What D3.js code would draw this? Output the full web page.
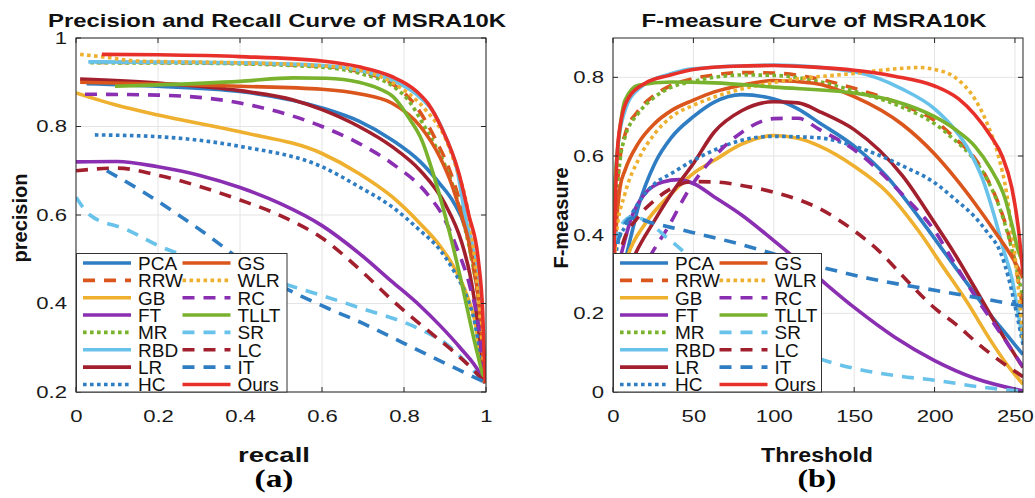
<!DOCTYPE html>
<html>
<head>
<meta charset="utf-8">
<script src="https://cdn.jsdelivr.net/npm/d3@7"></script>
<style>
  body { margin: 0; background: #fff; }
  text { font-family: Arial, "Liberation Sans", sans-serif; }
</style>
</head>
<body>
<svg id="chart" width="1035" height="498"></svg>
<script>
const methods = ["PCA","RRW","GB","FT","MR","RBD","LR","HC","GS","WLR","RC","TLLT","SR","LC","IT","Ours"];

// precision-recall curves, [recall, precision]
const prPCA  = [[0.026,0.897],[0.2,0.891],[0.4,0.879],[0.6,0.842],[0.69,0.812],[0.77,0.77],[0.84,0.72],[0.888,0.67],[0.92,0.63],[0.95,0.57],[0.97,0.49],[0.985,0.38],[0.997,0.22]];
const prRRW  = [[0.05,0.945],[0.3,0.944],[0.6,0.936],[0.7,0.922],[0.77,0.897],[0.83,0.845],[0.88,0.765],[0.908,0.709],[0.928,0.656],[0.944,0.604],[0.965,0.5],[0.985,0.38],[0.997,0.22]];
const prGB   = [[0,0.876],[0.1,0.848],[0.2,0.826],[0.4,0.788],[0.6,0.739],[0.69,0.694],[0.77,0.642],[0.839,0.581],[0.888,0.53],[0.92,0.485],[0.953,0.42],[0.973,0.36],[0.985,0.29],[0.997,0.22]];
const prFT   = [[0,0.72],[0.1,0.721],[0.2,0.709],[0.3,0.69],[0.4,0.662],[0.5,0.625],[0.6,0.576],[0.69,0.514],[0.77,0.45],[0.839,0.395],[0.888,0.35],[0.937,0.3],[0.985,0.242],[0.997,0.22]];
const prMR   = [[0.035,0.944],[0.3,0.943],[0.6,0.934],[0.7,0.918],[0.77,0.893],[0.81,0.86],[0.85,0.8],[0.88,0.75],[0.91,0.69],[0.94,0.6],[0.965,0.5],[0.985,0.38],[0.997,0.22]];
const prRBD  = [[0.03,0.946],[0.3,0.945],[0.6,0.938],[0.7,0.925],[0.77,0.905],[0.83,0.873],[0.87,0.835],[0.9,0.78],[0.93,0.7],[0.949,0.6],[0.973,0.5],[0.988,0.38],[0.997,0.22]];
const prLR   = [[0.01,0.907],[0.2,0.898],[0.4,0.881],[0.53,0.86],[0.6,0.838],[0.69,0.8],[0.77,0.755],[0.84,0.7],[0.9,0.625],[0.94,0.54],[0.961,0.465],[0.985,0.32],[0.997,0.22]];
const prHC   = [[0.046,0.781],[0.2,0.777],[0.4,0.755],[0.6,0.709],[0.69,0.664],[0.77,0.619],[0.839,0.565],[0.888,0.521],[0.92,0.476],[0.953,0.415],[0.973,0.355],[0.985,0.29],[0.997,0.22]];
const prGS   = [[0.01,0.9],[0.2,0.896],[0.4,0.891],[0.6,0.884],[0.69,0.874],[0.77,0.853],[0.84,0.8],[0.888,0.73],[0.916,0.67],[0.94,0.6],[0.958,0.54],[0.973,0.47],[0.986,0.37],[0.997,0.22]];
const prWLR  = [[0.01,0.963],[0.06,0.958],[0.15,0.948],[0.4,0.944],[0.6,0.937],[0.69,0.928],[0.77,0.9],[0.855,0.835],[0.9,0.775],[0.93,0.7],[0.948,0.645],[0.963,0.57],[0.981,0.42],[0.997,0.22]];
const prRC   = [[0.022,0.873],[0.2,0.871],[0.4,0.853],[0.6,0.8],[0.69,0.762],[0.77,0.717],[0.859,0.645],[0.896,0.596],[0.928,0.528],[0.961,0.438],[0.981,0.355],[0.997,0.22]];
const prTLLT = [[0.095,0.891],[0.2,0.894],[0.4,0.902],[0.53,0.91],[0.61,0.909],[0.69,0.9],[0.74,0.885],[0.774,0.867],[0.815,0.815],[0.843,0.77],[0.871,0.694],[0.9,0.6],[0.937,0.461],[0.973,0.31],[0.997,0.22]];
const prSR   = [[0,0.64],[0.034,0.6],[0.124,0.567],[0.205,0.529],[0.367,0.483],[0.53,0.438],[0.693,0.39],[0.839,0.342],[0.904,0.308],[0.961,0.257],[0.997,0.22]];
const prLC   = [[0,0.7],[0.1,0.706],[0.2,0.69],[0.3,0.665],[0.4,0.634],[0.5,0.598],[0.6,0.548],[0.7,0.47],[0.774,0.405],[0.87,0.33],[0.92,0.292],[0.969,0.25],[0.997,0.222]];
const prIT   = [[0.075,0.7],[0.164,0.652],[0.25,0.6],[0.32,0.555],[0.4,0.5],[0.5,0.44],[0.6,0.395],[0.7,0.355],[0.8,0.31],[0.9,0.265],[0.997,0.222]];
const prOurs = [[0.063,0.963],[0.2,0.962],[0.4,0.958],[0.6,0.948],[0.69,0.935],[0.77,0.913],[0.83,0.88],[0.86,0.85],[0.89,0.8],[0.934,0.694],[0.958,0.6],[0.981,0.5],[0.992,0.38],[0.998,0.22]];

// F-measure curves, [threshold, F]
const fmPCA  = [[0,0.27],[5,0.3],[11.6,0.403],[15.7,0.47],[26,0.581],[36.5,0.648],[50,0.7],[63,0.737],[80,0.756],[100,0.745],[115,0.72],[128.5,0.684],[150,0.625],[170,0.549],[191,0.44],[200,0.39],[212.7,0.318],[225,0.25],[233,0.205],[245,0.145],[255,0.095]];
const fmRRW  = [[0,0.27],[1,0.4],[4.4,0.595],[7.5,0.655],[15.7,0.715],[26,0.755],[36.5,0.78],[50,0.797],[63,0.806],[80,0.812],[100,0.811],[125,0.798],[150,0.772],[180,0.73],[200,0.69],[212.7,0.645],[225,0.594],[233,0.54],[241,0.465],[246,0.4],[250,0.33],[255,0.21]];
const fmGB   = [[0,0.2],[9.5,0.35],[20,0.428],[36.5,0.505],[50,0.556],[63,0.589],[80,0.63],[100,0.652],[115,0.645],[128.5,0.625],[150,0.574],[170,0.51],[190,0.41],[205,0.32],[220,0.23],[235,0.13],[245,0.07],[255,0.02]];
const fmFT   = [[0,0.27],[5.4,0.355],[11.6,0.445],[20,0.505],[31,0.534],[41,0.54],[50,0.53],[63,0.496],[80,0.45],[100,0.385],[125,0.3],[150,0.215],[175,0.14],[200,0.08],[225,0.035],[255,0.003]];
const fmMR   = [[0,0.27],[1,0.4],[4.4,0.589],[7.5,0.648],[15.7,0.708],[26,0.75],[36.5,0.775],[50,0.79],[63,0.8],[80,0.806],[100,0.805],[125,0.792],[150,0.765],[180,0.724],[200,0.682],[212.7,0.64],[225,0.589],[233,0.538],[241,0.462],[246,0.395],[250,0.33],[255,0.24]];
const fmRBD  = [[0,0.27],[1,0.5],[3.3,0.632],[7.5,0.716],[15.7,0.77],[36.5,0.81],[50,0.822],[100,0.831],[150,0.814],[180,0.77],[200,0.72],[212,0.67],[222,0.61],[230,0.54],[237,0.45],[243,0.36],[248,0.29],[252,0.2],[255,0.13]];
const fmLR   = [[0,0.2],[14,0.352],[26,0.437],[36.5,0.505],[50,0.581],[63,0.661],[80,0.715],[100,0.738],[115,0.735],[130,0.71],[150,0.667],[180,0.55],[200,0.43],[212.7,0.35],[225,0.265],[240,0.16],[255,0.062]];
const fmHC   = [[0,0.27],[3,0.38],[7.5,0.42],[15.7,0.48],[26,0.53],[36.5,0.556],[50,0.589],[63,0.615],[80,0.64],[100,0.65],[128.5,0.646],[150,0.625],[180.5,0.574],[200,0.532],[212.7,0.49],[225,0.445],[233,0.405],[241,0.355],[246,0.29],[251,0.2],[255,0.12]];
const fmGS   = [[0,0.27],[2,0.42],[4.4,0.521],[7.5,0.564],[15.7,0.632],[26,0.683],[36.5,0.716],[50,0.742],[63,0.763],[80,0.78],[100,0.792],[125,0.785],[150,0.751],[180,0.68],[200,0.605],[212.7,0.545],[225,0.48],[238,0.405],[250,0.33],[255,0.29]];
const fmWLR  = [[0,0.27],[2,0.4],[7.5,0.505],[15.7,0.59],[26,0.657],[36.5,0.7],[50,0.729],[63,0.75],[100,0.787],[150,0.81],[180,0.823],[190,0.825],[200,0.82],[212.7,0.8],[225,0.745],[233,0.68],[239.7,0.6],[244.8,0.505],[248,0.41],[252,0.27],[255,0.13]];
const fmRC   = [[0,0.15],[24,0.352],[34.4,0.42],[47,0.513],[63,0.598],[80,0.66],[100,0.695],[115,0.696],[128.5,0.667],[150,0.616],[180.5,0.5],[200,0.41],[212,0.33],[225,0.245],[237.6,0.17],[255,0.064]];
const fmTLLT = [[0,0.27],[1,0.5],[2.5,0.6],[4.4,0.674],[7.5,0.742],[15.7,0.78],[36.5,0.788],[63,0.786],[100,0.775],[150,0.76],[175,0.74],[200,0.7],[212.7,0.668],[225,0.625],[235,0.567],[244,0.49],[249,0.41],[252,0.36],[255,0.33]];
const fmSR   = [[0,0.27],[3.3,0.41],[11.6,0.445],[20,0.437],[33,0.394],[43,0.36],[60,0.28],[80,0.2],[100,0.14],[125,0.09],[150,0.06],[175,0.042],[200,0.03],[230,0.012],[255,0.002]];
const fmLC   = [[0,0.27],[5.4,0.369],[15.7,0.445],[26,0.488],[36.5,0.518],[50,0.535],[63,0.534],[80,0.525],[100,0.508],[128.5,0.466],[150,0.41],[165,0.36],[180.6,0.293],[201,0.21],[212.7,0.174],[227,0.123],[240,0.081],[255,0.039]];
const fmIT   = [[0,0.27],[3.3,0.386],[11.6,0.442],[26,0.428],[50,0.405],[77,0.378],[118,0.33],[160,0.288],[201,0.258],[233,0.235],[255,0.218]];
const fmOurs = [[0,0.27],[1,0.42],[2.5,0.6],[5,0.69],[10,0.75],[20,0.785],[35,0.805],[50,0.82],[75,0.828],[100,0.83],[125,0.826],[150,0.818],[175,0.803],[200,0.778],[215,0.745],[225,0.705],[235,0.65],[242,0.6],[248,0.52],[252,0.42],[255,0.3]];

const prTicksX = [0, 0.2, 0.4, 0.6, 0.8, 1];
const prTicksY = [0.2, 0.4, 0.6, 0.8, 1];
const fmTicksX = [0, 50, 100, 150, 200, 250];
const fmTicksY = [0, 0.2, 0.4, 0.6, 0.8];

const prData = [prPCA,prRRW,prGB,prFT,prMR,prRBD,prLR,prHC,prGS,prWLR,prRC,prTLLT,prSR,prLC,prIT,prOurs];
const fmData = [fmPCA,fmRRW,fmGB,fmFT,fmMR,fmRBD,fmLR,fmHC,fmGS,fmWLR,fmRC,fmTLLT,fmSR,fmLC,fmIT,fmOurs];

// line styles
const color = {
  PCA:"#2f7dc2", RRW:"#da561c", GB:"#eeb02e", FT:"#8b2fb2", MR:"#79b22c", RBD:"#69c2ea",
  LR:"#a2202e", HC:"#2f7dc2", GS:"#da561c", WLR:"#eeb02e", RC:"#8b2fb2", TLLT:"#79b22c",
  SR:"#69c2ea", LC:"#a2202e", IT:"#2f7dc2", Ours:"#e8302a"
};
const DASH = "12,9", DOT = "3.6,3.4";
const dash = {
  PCA:null, RRW:DASH, GB:null, FT:null, MR:DOT, RBD:null, LR:null, HC:DOT,
  GS:null, WLR:DOT, RC:DASH, TLLT:null, SR:DASH, LC:DASH, IT:DASH, Ours:null
};

const svg = d3.select("#chart");

function stretch(sel, k) {
  sel.each(function () {
    const w = this.getComputedTextLength();
    d3.select(this).attr("textLength", w * k).attr("lengthAdjust", "spacingAndGlyphs");
  });
}

function panel(o) {
  const x = d3.scaleLinear().domain(o.xDomain).range([o.left, o.right]);
  const y = d3.scaleLinear().domain(o.yDomain).range([o.bottom, o.top]);
  const g = svg.append("g");

  g.append("clipPath").attr("id", o.id + "-clip")
    .append("rect").attr("x", o.left).attr("y", o.top)
    .attr("width", o.right - o.left).attr("height", o.bottom - o.top);

  // grid
  g.append("g").selectAll("line").data(o.xTicks).enter().append("line")
    .attr("x1", d => x(d)).attr("x2", d => x(d)).attr("y1", o.top).attr("y2", o.bottom)
    .attr("stroke", "#e4e4e4").attr("stroke-width", 1);
  g.append("g").selectAll("line").data(o.yTicks).enter().append("line")
    .attr("y1", d => y(d)).attr("y2", d => y(d)).attr("x1", o.left).attr("x2", o.right)
    .attr("stroke", "#e4e4e4").attr("stroke-width", 1);

  // curves
  const line = d3.line().x(d => x(d[0])).y(d => y(d[1])).curve(d3.curveMonotoneX);
  g.append("g").attr("clip-path", `url(#${o.id}-clip)`)
    .selectAll("path").data(o.data).enter().append("path")
    .attr("d", line)
    .attr("fill", "none")
    .attr("stroke", (d, i) => color[methods[i]])
    .attr("stroke-width", 3.6)
    .attr("stroke-dasharray", (d, i) => dash[methods[i]]);

  // box + inward ticks
  g.append("rect").attr("x", o.left).attr("y", o.top)
    .attr("width", o.right - o.left).attr("height", o.bottom - o.top)
    .attr("fill", "none").attr("stroke", "#262626").attr("stroke-width", 1);
  const tk = 5;
  const tg = g.append("g").attr("stroke", "#262626").attr("stroke-width", 1);
  o.xTicks.forEach(v => {
    tg.append("line").attr("x1", x(v)).attr("x2", x(v)).attr("y1", o.bottom).attr("y2", o.bottom - tk);
    tg.append("line").attr("x1", x(v)).attr("x2", x(v)).attr("y1", o.top).attr("y2", o.top + tk);
  });
  o.yTicks.forEach(v => {
    tg.append("line").attr("y1", y(v)).attr("y2", y(v)).attr("x1", o.left).attr("x2", o.left + tk);
    tg.append("line").attr("y1", y(v)).attr("y2", y(v)).attr("x1", o.right).attr("x2", o.right - tk);
  });

  // tick labels
  const ax = g.append("g").attr("transform", `translate(0,${o.bottom})`)
    .call(d3.axisBottom(x).tickValues(o.xTicks).tickSize(0).tickPadding(18).tickFormat(d => +d));
  const ay = g.append("g").attr("transform", `translate(${o.left},0)`)
    .call(d3.axisLeft(y).tickValues(o.yTicks).tickSize(0).tickPadding(9).tickFormat(d => +d.toFixed(1)));
  [ax, ay].forEach(a => {
    a.select(".domain").remove();
    a.selectAll("text").style("font-size", "17px").style("font-family", "Arial, 'Liberation Sans', sans-serif")
      .attr("fill", "#1a1a1a");
    stretch(a.selectAll("text"), 1.3);
  });

  // titles and labels
  g.append("text").attr("x", o.titleX).attr("y", 27).attr("text-anchor", "middle")
    .style("font-size", "18.5px").style("font-weight", "bold").attr("fill", "#111")
    .attr("textLength", o.titleLen).attr("lengthAdjust", "spacingAndGlyphs")
    .text(o.title);
  g.append("text").attr("x", o.xLabelX).attr("y", 462).attr("text-anchor", "middle")
    .style("font-size", "21px").style("font-weight", "bold").attr("fill", "#111")
    .attr("textLength", o.xLabelLen).attr("lengthAdjust", "spacingAndGlyphs")
    .text(o.xLabel);
  g.append("text").attr("transform", `translate(${o.yLabelX},218) rotate(-90)`).attr("text-anchor", "middle")
    .style("font-size", "20px").style("font-weight", "bold").attr("fill", "#111")
    .text(o.yLabel);
  g.append("text").attr("x", o.capX).attr("y", 487).attr("text-anchor", "middle")
    .style("font-size", "26px").style("font-weight", "bold")
    .style("font-family", "'Liberation Serif', 'Times New Roman', serif").attr("fill", "#000")
    .attr("textLength", 39).attr("lengthAdjust", "spacingAndGlyphs")
    .text(o.cap);

  // legend
  const L = o.left;
  const lg = g.append("g");
  lg.append("rect").attr("x", L + 0.5).attr("y", 253.5).attr("width", o.legendW).attr("height", o.bottom - 253.5)
    .attr("fill", "#fff").attr("stroke", "#333").attr("stroke-width", 1);
  methods.forEach((m, i) => {
    const col = Math.floor(i / 8), row = i % 8;
    const ry = 263 + row * 17.35;
    const lx = L + 7 + col * 99.5;
    lg.append("line").attr("x1", lx).attr("x2", lx + 48).attr("y1", ry).attr("y2", ry)
      .attr("stroke", color[m]).attr("stroke-width", 3.6).attr("stroke-dasharray", dash[m]);
    lg.append("text").attr("x", lx + 55).attr("y", ry).attr("dy", "0.36em")
      .style("font-size", "19px").attr("fill", "#111").text(m);
  });
}

panel({
  id: "pr", left: 76, right: 486, top: 38, bottom: 392,
  xDomain: [0, 1], yDomain: [0.2, 1], xTicks: prTicksX, yTicks: prTicksY, data: prData,
  title: "Precision and Recall Curve of MSRA10K", titleX: 277, titleLen: 458,
  xLabel: "recall", xLabelX: 274, xLabelLen: 72, yLabel: "precision", yLabelX: 27,
  cap: "(a)", capX: 274, legendW: 210.5
});
panel({
  id: "fm", left: 613, right: 1023, top: 38, bottom: 392,
  xDomain: [0, 255], yDomain: [0, 0.9], xTicks: fmTicksX, yTicks: fmTicksY, data: fmData,
  title: "F-measure Curve of MSRA10K", titleX: 814, titleLen: 345,
  xLabel: "Threshold", xLabelX: 817, xLabelLen: 112, yLabel: "F-measure", yLabelX: 568,
  cap: "(b)", capX: 817, legendW: 208
});
</script>
</body>
</html>
